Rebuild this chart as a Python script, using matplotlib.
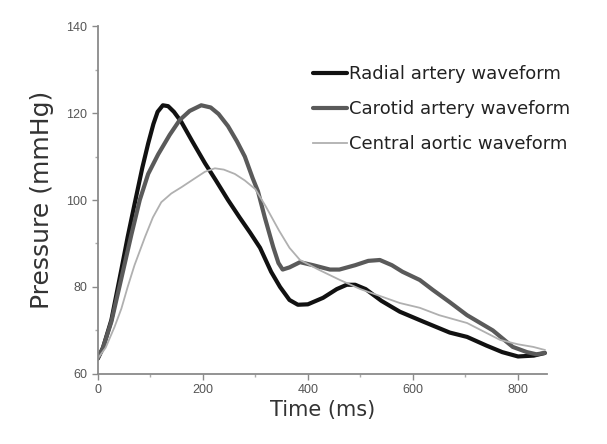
"""Arterial pressure waveforms: radial, carotid and central aortic."""
import matplotlib
matplotlib.use("Agg")
import matplotlib.pyplot as plt
from matplotlib.ticker import MultipleLocator

plt.rcParams["font.family"] = ["Liberation Sans", "DejaVu Sans"]

# values
radial_t = [0, 10, 26, 45, 57, 70, 85, 96, 106, 114, 124, 134, 145, 159, 180,
            204, 225, 248, 270, 290, 309, 330, 347, 365, 381, 400, 429, 455,
            474, 490, 510, 540, 575, 620, 670, 703, 740, 770, 800, 830, 851]
radial_p = [63.5, 66, 72.4, 84, 91.5, 99, 107.5, 113, 117.5, 120.3, 121.8,
            121.6, 120.3, 118, 113.5, 108.5, 104.5, 100, 96, 92.5, 89, 83.5,
            80, 77, 75.9, 76, 77.5, 79.5, 80.5, 80.5, 79.5, 76.8, 74.3, 72,
            69.5, 68.5, 66.5, 65, 64, 64.2, 64.8]

carotid_t = [0, 10, 26, 45, 64, 80, 96, 115, 137, 156, 175, 197, 215, 230,
             248, 265, 280, 295, 305, 318, 334, 344, 352, 365, 385, 410, 442,
             460, 490, 515, 537, 560, 580, 613, 638, 670, 703, 752, 790, 817,
             835, 851]
carotid_p = [63.5, 66, 72, 82, 92, 100, 106, 110.5, 115, 118.4, 120.5, 121.8,
             121.3, 119.8, 117, 113.5, 110, 105, 102, 96, 89.2, 85.5, 84,
             84.5, 85.7, 85, 84, 84, 85, 86, 86.2, 85, 83.5, 81.6, 79.3, 76.5,
             73.5, 70, 66.2, 65, 64.5, 64.8]

central_t = [0, 15, 32, 45, 57, 70, 90, 105, 121, 140, 160, 185, 204, 223,
             240, 261, 280, 300, 320, 345, 365, 385, 420, 461, 500, 540, 575,
             613, 650, 703, 766, 800, 829, 851]
central_p = [63.5, 66, 70.8, 75, 80, 85, 91.5, 96, 99.5, 101.5, 103, 105,
             106.5, 107.3, 107, 106, 104.5, 102.5, 98.5, 93, 89, 86.2, 84,
             81.6, 79.5, 77.8, 76.3, 75.2, 73.5, 71.7, 67.8, 66.8, 66.2, 65.5]

fig = plt.figure(figsize=(6.07, 4.44), dpi=100)
ax = fig.add_axes([0.161, 0.158, 0.74, 0.783])

ax.plot(radial_t, radial_p, color="#111111", lw=3.0,
        label="Radial artery waveform", solid_capstyle="round")
ax.plot(carotid_t, carotid_p, color="#5a5a5a", lw=3.0,
        label="Carotid artery waveform", solid_capstyle="round")
ax.plot(central_t, central_p, color="#b0b0b0", lw=1.3,
        label="Central aortic waveform")

ax.set_xlim(0, 855)
ax.set_ylim(60, 140)
ax.xaxis.set_major_locator(MultipleLocator(200))
ax.xaxis.set_minor_locator(MultipleLocator(100))
ax.yaxis.set_major_locator(MultipleLocator(20))
ax.yaxis.set_minor_locator(MultipleLocator(10))

for side in ("top", "right"):
    ax.spines[side].set_visible(False)
for side in ("left", "bottom"):
    ax.spines[side].set_color("#8a8a8a")
    ax.spines[side].set_linewidth(1.3)

ax.tick_params(which="major", length=4, width=1, color="#8a8a8a",
               labelsize=9, labelcolor="#555555")
ax.tick_params(which="minor", length=2.5, width=1, color="#aaaaaa")

ax.set_xlabel("Time (ms)", fontsize=15, color="#333333", labelpad=3,
              family=["DejaVu Sans"])
ax.set_ylabel("Pressure (mmHg)", fontsize=18, color="#333333", labelpad=9,
              family=["DejaVu Sans"])

leg = ax.legend(loc="upper left", bbox_to_anchor=(0.479, 0.888),
                frameon=False, borderpad=0, borderaxespad=0,
                prop={"family": "DejaVu Sans", "size": 13},
                handlelength=1.9, handletextpad=0.1, labelspacing=0.95)
for txt in leg.get_texts():
    txt.set_color("#222222")

fig.savefig("out.png", dpi=100, facecolor="white")
